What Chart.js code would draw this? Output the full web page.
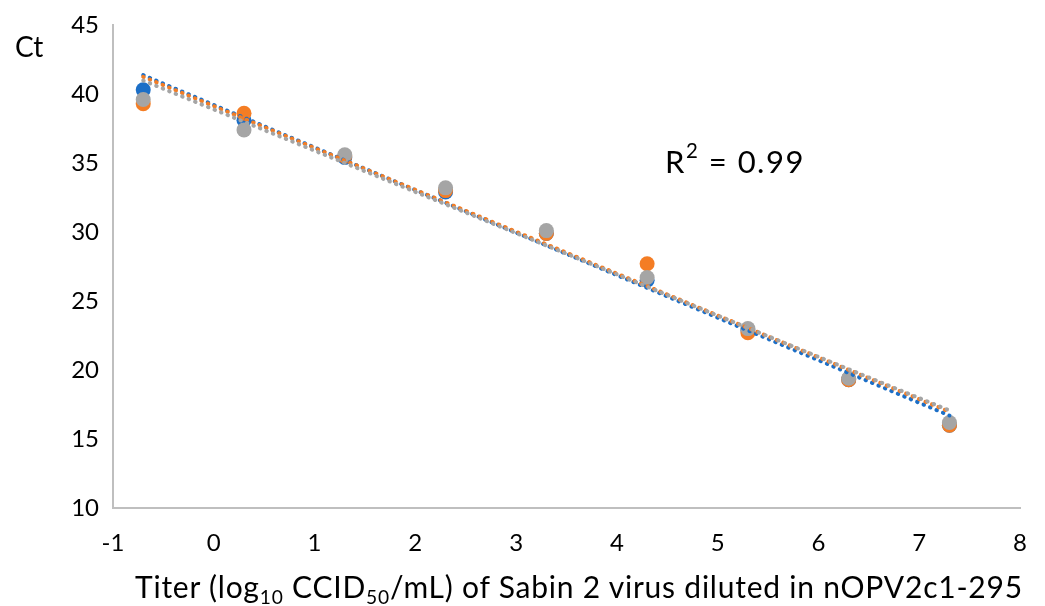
<!DOCTYPE html>
<html>
<head>
<meta charset="utf-8">
<script src="https://cdn.jsdelivr.net/npm/chart.js@4"></script>
<style>
  html,body{margin:0;padding:0;background:#fff;}
  #wrap{position:relative;width:1045px;height:606px;}
  canvas{position:absolute;left:0;top:0;}
  .lbl{position:absolute;font-family:Lato,"Open Sans",sans-serif;color:#000;white-space:nowrap;line-height:1;}
  sub{font-size:64%;vertical-align:-0.3em;line-height:0;}
  sup{font-size:66%;vertical-align:0.72em;line-height:0;}
</style>
</head>
<body>
<div id="wrap">
  <canvas id="c" width="1045" height="606"></canvas>
  <div class="lbl" id="ct" style="left:15px;top:32px;font-size:28px;">Ct</div>
  <div class="lbl" id="r2" style="left:665px;top:146px;font-size:31px;letter-spacing:1.5px;">R<sup>2</sup> = 0.99</div>
  <div class="lbl" id="xt" style="left:135px;top:571px;font-size:30px;">Titer (log<sub>10</sub> CCID<sub>50</sub>/mL) of Sabin 2 virus diluted in nOPV2c1-295</div>
</div>
<script>
// Data
const titers = [-0.7, 0.3, 1.3, 2.3, 3.3, 4.3, 5.3, 6.3, 7.3];
const ctBlue   = [40.3, 38.1, 35.4, 32.9, 29.9, 26.5, 22.9, 19.3, 16.0];
const ctOrange = [39.3, 38.6, 35.5, 33.0, 29.9, 27.7, 22.7, 19.3, 16.0];
const ctGray   = [39.6, 37.4, 35.6, 33.2, 30.1, 26.7, 23.0, 19.4, 16.2];
const xTicks = [-1, 0, 1, 2, 3, 4, 5, 6, 7, 8];
const yTicks = [10, 15, 20, 25, 30, 35, 40, 45];

const colBlue = '#1c6fc7', colOrange = '#f47d24', colGray = '#a5a5a5';

function pts(ys){ return titers.map((x,i)=>({x:x, y:ys[i]})); }
function trend(ys){
  const n = titers.length;
  const mx = titers.reduce((a,b)=>a+b,0)/n;
  const my = ys.reduce((a,b)=>a+b,0)/n;
  let sxy=0, sxx=0;
  for(let i=0;i<n;i++){ sxy+=(titers[i]-mx)*(ys[i]-my); sxx+=(titers[i]-mx)**2; }
  const b = sxy/sxx, a = my - b*mx;
  const x0 = titers[0], x1 = titers[n-1];
  return [{x:x0,y:a+b*x0},{x:x1,y:a+b*x1}];
}
function scatterDs(ys,col,order){
  return {type:'scatter', data:pts(ys), backgroundColor:col, borderColor:col, pointRadius:7.5, pointHoverRadius:7.5, borderWidth:0, showLine:false, order:order};
}
function trendDs(ys,col,order){
  return {type:'line', data:trend(ys), borderColor:col, borderWidth:4, borderDash:[0.5,6.5], borderCapStyle:'round', pointRadius:0, fill:false, tension:0, order:order};
}

const tickFont = {family:'Lato, "Open Sans", sans-serif', size:24};

new Chart(document.getElementById('c'), {
  data: {
    datasets: [
      scatterDs(ctBlue, colBlue, 6),
      scatterDs(ctOrange, colOrange, 5),
      scatterDs(ctGray, colGray, 4),
      trendDs(ctBlue, colBlue, 3),
      trendDs(ctOrange, colOrange, 2),
      trendDs(ctGray, colGray, 1)
    ]
  },
  options: {
    responsive:false, animation:false,
    layout:{padding:{left:0,right:25,top:25,bottom:0}},
    plugins:{legend:{display:false}, tooltip:{enabled:false}},
    scales:{
      x:{type:'linear', min:xTicks[0], max:xTicks[xTicks.length-1],
        afterBuildTicks: s => { s.ticks = xTicks.map(v=>({value:v})); },
        afterFit: s => { s.height = 98; },
        grid:{display:false},
        border:{display:true,color:'#bfbfbf',width:2},
        ticks:{font:tickFont,color:'#000',padding:13,maxRotation:0}
      },
      y:{type:'linear', min:yTicks[0], max:yTicks[yTicks.length-1],
        afterBuildTicks: s => { s.ticks = yTicks.map(v=>({value:v})); },
        afterFit: s => { s.width = 113; },
        grid:{display:false},
        border:{display:true,color:'#bfbfbf',width:2},
        ticks:{font:tickFont,color:'#000',padding:6}
      }
    }
  }
});

// stretch axis title spacing to reference width
(function(){
  const el = document.getElementById('xt');
  const target = 888;
  const w = el.getBoundingClientRect().width;
  const n = el.textContent.length;
  if (w < target) el.style.letterSpacing = ((target - w) / n).toFixed(2) + 'px';
})();
</script>
</body>
</html>
